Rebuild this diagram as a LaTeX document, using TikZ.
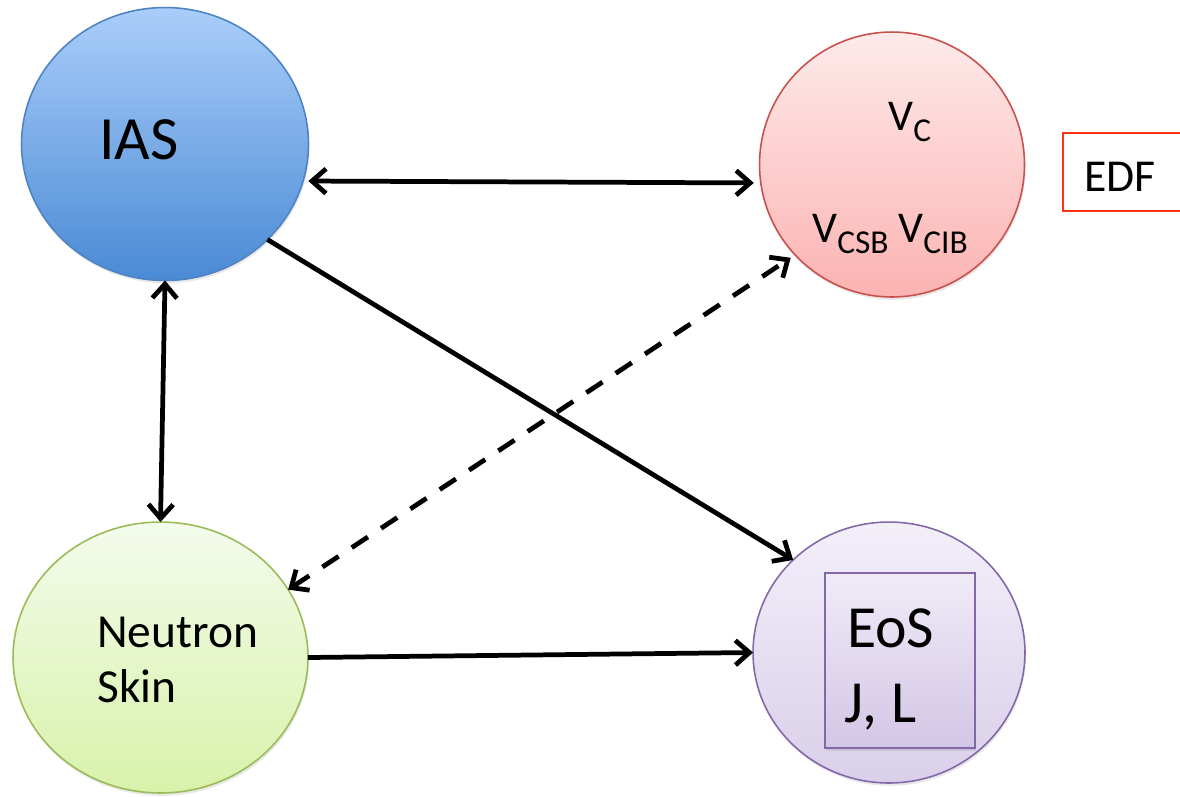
\documentclass[tikz,border=0pt]{standalone}
\usepackage{fontspec}
\setmainfont{Carlito}
\usetikzlibrary{shapes.geometric,arrows.meta,shadows}

\definecolor{iasTop}{HTML}{AACEFA}
\definecolor{iasBot}{HTML}{4A8AD5}
\definecolor{iasLine}{HTML}{4F83C2}
\definecolor{vcTop}{HTML}{FEEAEA}
\definecolor{vcBot}{HTML}{FBB3B1}
\definecolor{vcLine}{HTML}{C8504D}
\definecolor{nsTop}{HTML}{F4FBEC}
\definecolor{nsBot}{HTML}{D8F2AA}
\definecolor{nsLine}{HTML}{9BBB59}
\definecolor{eosTop}{HTML}{F3EFF9}
\definecolor{eosBot}{HTML}{D9CFEA}
\definecolor{eosLine}{HTML}{8467A8}
\definecolor{boxTop}{HTML}{F0EBF7}
\definecolor{boxBot}{HTML}{D3C6E6}
\definecolor{edfLine}{HTML}{FF3214}

\newcommand{\lowsub}[1]{\raisebox{-6.5pt}{\fontsize{19}{19}\selectfont #1}}

\begin{document}
\begin{tikzpicture}[x=0.02cm,y=-0.02cm,
  bubble/.style={ellipse, inner sep=0pt, outer sep=0pt, line width=0.9pt,
    drop shadow={shadow xshift=0.6pt, shadow yshift=-1.6pt, opacity=0.18}},
  txt/.style={anchor=base west, inner sep=0pt, text=black},
  link/.style={line width=2.7pt, >={Straight Barb[length=8pt,width=14pt]}},
  dashlink/.style={link, dash pattern=on 11pt off 9pt}
]
\useasboundingbox (0,0) rectangle (1180,796);

% the four bubbles
\node[bubble, draw=iasLine, top color=iasTop, bottom color=iasBot,
      minimum width=5.74cm, minimum height=5.46cm] (IAS) at (165,144) {};
\node[bubble, draw=vcLine, top color=vcTop, bottom color=vcBot,
      minimum width=5.3cm, minimum height=5.3cm] (VC) at (892,164.5) {};
\node[bubble, draw=nsLine, top color=nsTop, bottom color=nsBot,
      minimum width=5.9cm, minimum height=5.42cm] (NS) at (160.5,657.5) {};
\node[bubble, draw=eosLine, top color=eosTop, bottom color=eosBot,
      minimum width=5.44cm, minimum height=5.22cm] (EoS) at (889,652.5) {};

% inner box of the EoS bubble
\node[rectangle, draw=eosLine, line width=0.9pt, top color=boxTop, bottom color=boxBot,
      inner sep=0pt, minimum width=3.0cm, minimum height=3.5cm,
      drop shadow={shadow xshift=0.6pt, shadow yshift=-1.6pt, opacity=0.18}]
      (EoSbox) at (900,660.5) {};

% EDF box
\node[rectangle, draw=edfLine, line width=1.1pt, fill=white, inner sep=0pt,
      minimum width=2.64cm, minimum height=1.56cm] (EDF) at (1129,172) {};

% texts
\node[txt, font=\fontsize{35}{40}\selectfont] (tIAS) at (99,159) {IAS};
\node[txt, font=\fontsize{25}{30}\selectfont] (tVC) at (888,130) {V\lowsub{C}};
\node[txt, font=\fontsize{25}{30}\selectfont] (tVCSB) at (812,242) {V\lowsub{CSB} V\lowsub{CIB}};
\node[txt, font=\fontsize{26}{30}\selectfont] (tEDF) at (1084,191) {EDF};
\node[txt, font=\fontsize{27}{32}\selectfont] (tNeutron) at (97,647) {Neutron};
\node[txt, font=\fontsize{27}{32}\selectfont] (tSkin) at (97,702) {Skin};
\node[txt, font=\fontsize{34}{40}\selectfont] (tEoS) at (847,647) {EoS};
\node[txt, font=\fontsize{34}{40}\selectfont] (tJL) at (844,722) {J, L};

% connectors
\draw[link, <->, shorten <=3pt, shorten >=4pt] (IAS.-15.4) -- (VC.-172.4);
\draw[link, ->] (IAS.-43.5) -- (EoS.136.3);
\draw[link, <->] (IAS.south) -- (NS.north);
\draw[link, ->] (NS.east) -- (EoS.west);
\draw[dashlink, <->, shorten >=3pt] (NS.28.2) -- (VC.223.7);

\end{tikzpicture}
\end{document}
